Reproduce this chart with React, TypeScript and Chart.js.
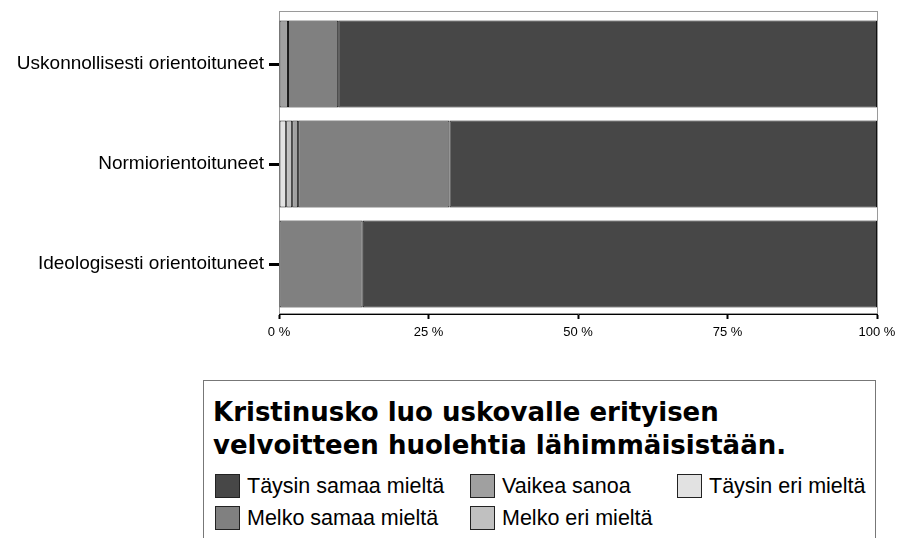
import React, { useEffect, useRef } from "react";
import { Chart, registerables } from "chart.js";

Chart.register(...registerables);

const categories = [
  "Uskonnollisesti orientoituneet",
  "Normiorientoituneet",
  "Ideologisesti orientoituneet",
];

// stacked left to right
const taysinEri = [0, 1.2, 0];
const melkoEri = [0, 1.0, 0];
const vaikeaSanoa = [1.5, 1.0, 0];
const melkoSamaa = [8.4, 25.3, 14.0];
const taysinSamaa = [90.1, 71.5, 86.0];

const xTicks = [0, 25, 50, 75, 100];

const legendTitle = [
  "Kristinusko luo uskovalle erityisen",
  "velvoitteen huolehtia lähimmäisistään.",
];

const colors = {
  taysinSamaa: "#474747",
  melkoSamaa: "#808080",
  vaikeaSanoa: "#a0a0a0",
  melkoEri: "#c0c0c0",
  taysinEri: "#e2e2e2",
};

const legendItems = [
  { label: "Täysin samaa mieltä", color: colors.taysinSamaa, col: 0, row: 0 },
  { label: "Vaikea sanoa", color: colors.vaikeaSanoa, col: 1, row: 0 },
  { label: "Täysin eri mieltä", color: colors.taysinEri, col: 2, row: 0 },
  { label: "Melko samaa mieltä", color: colors.melkoSamaa, col: 0, row: 1 },
  { label: "Melko eri mieltä", color: colors.melkoEri, col: 1, row: 1 },
];

const colX = [11, 266, 473];
const rowY = [92, 124];

const framePlugin = {
  id: "frame",
  beforeDatasetsDraw(chart: any) {
    const { ctx, chartArea } = chart;
    ctx.save();
    ctx.strokeStyle = "#9a9a9a";
    ctx.lineWidth = 1;
    ctx.strokeRect(
      chartArea.left + 0.5,
      chartArea.top - 2.5,
      chartArea.right - chartArea.left,
      chartArea.bottom - chartArea.top + 2
    );
    ctx.restore();
  },
};

export default function App() {
  const ref = useRef<HTMLCanvasElement>(null);

  useEffect(() => {
    if (!ref.current) return;
    const mk = (label: string, data: number[], color: string) => ({
      label,
      data,
      backgroundColor: color,
      borderColor: "#111111",
      borderWidth: 1,
      borderSkipped: false,
      barPercentage: 0.87,
      categoryPercentage: 1,
    });
    const chart = new Chart(ref.current, {
      type: "bar",
      data: {
        labels: categories,
        datasets: [
          mk("Täysin eri mieltä", taysinEri, colors.taysinEri),
          mk("Melko eri mieltä", melkoEri, colors.melkoEri),
          mk("Vaikea sanoa", vaikeaSanoa, colors.vaikeaSanoa),
          mk("Melko samaa mieltä", melkoSamaa, colors.melkoSamaa),
          mk("Täysin samaa mieltä", taysinSamaa, colors.taysinSamaa),
        ] as any,
      },
      options: {
        animation: false,
        responsive: false,
        indexAxis: "y",
        layout: { padding: { top: 14, right: 22, left: 0, bottom: 0 } },
        plugins: {
          legend: { display: false },
          tooltip: { enabled: false },
        },
        scales: {
          x: {
            stacked: true,
            min: 0,
            max: 100,
            afterBuildTicks(scale: any) {
              scale.ticks = xTicks.map((v) => ({ value: v }));
            },
            afterFit(scale: any) {
              scale.height = 31;
              scale.paddingLeft = 0;
              scale.paddingRight = 0;
            },
            ticks: {
              callback: (v: any) => v + " %",
              color: "#000",
              font: { family: "Liberation Sans", size: 13 },
              padding: 6,
              maxRotation: 0,
            },
            grid: {
              drawOnChartArea: false,
              drawTicks: true,
              tickLength: 5,
              tickWidth: 2,
              color: "#000",
            },
            border: { color: "#000", width: 1 },
          },
          y: {
            stacked: true,
            afterFit(scale: any) {
              scale.width = 279;
              scale.paddingTop = 0;
              scale.paddingBottom = 0;
            },
            ticks: {
              color: "#000",
              font: { family: "Liberation Sans", size: 19 },
              padding: 5,
            },
            grid: {
              offset: false,
              drawOnChartArea: false,
              drawTicks: true,
              tickLength: 10,
              tickWidth: 3,
              color: "#000",
            },
            border: { color: "#000", width: 1 },
          },
        },
      } as any,
      plugins: [framePlugin],
    });
    return () => chart.destroy();
  }, []);

  return (
    <div
      style={{
        position: "fixed",
        left: 0,
        top: 0,
        width: 899,
        height: 538,
        background: "#fff",
        overflow: "hidden",
      }}
    >
      <canvas
        ref={ref}
        width={899}
        height={345}
        style={{ position: "absolute", left: 0, top: 0, width: 899, height: 345 }}
      />
      <div
        style={{
          position: "absolute",
          left: 203,
          top: 380,
          width: 673,
          height: 170,
          border: "1px solid #777",
          boxSizing: "border-box",
          background: "#fff",
        }}
      >
        <div
          style={{
            position: "absolute",
            left: 9,
            top: 15,
            fontFamily: "DejaVu Sans",
            fontWeight: "bold",
            fontSize: 26,
            lineHeight: "33px",
            color: "#000",
            whiteSpace: "nowrap",
          }}
        >
          {legendTitle.map((t, i) => (
            <div key={i}>{t}</div>
          ))}
        </div>
        {legendItems.map((it, i) => (
          <div
            key={i}
            style={{
              position: "absolute",
              left: colX[it.col],
              top: rowY[it.row],
              height: 26,
              display: "flex",
              alignItems: "center",
              whiteSpace: "nowrap",
            }}
          >
            <div
              style={{
                width: 25,
                height: 24,
                background: it.color,
                border: "1px solid #222",
                boxSizing: "border-box",
                marginRight: 7,
              }}
            />
            <span
              style={{
                fontFamily: "Liberation Sans",
                fontSize: 21.5,
                color: "#000",
              }}
            >
              {it.label}
            </span>
          </div>
        ))}
      </div>
    </div>
  );
}
